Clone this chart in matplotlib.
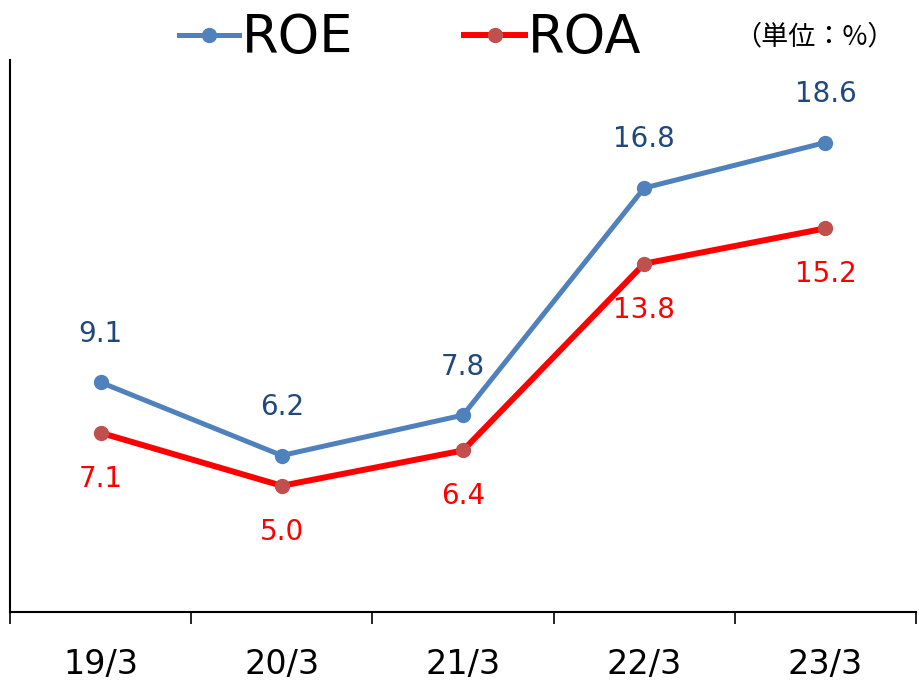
import numpy as np
import matplotlib
matplotlib.use("Agg")
import matplotlib.pyplot as plt

plt.rcParams['font.family'] = ['DejaVu Sans', 'Noto Sans CJK JP']

# data
periods = ["19/3", "20/3", "21/3", "22/3", "23/3"]
roe = [9.1, 6.2, 7.8, 16.8, 18.6]
roa = [7.1, 5.0, 6.4, 13.8, 15.2]

fig = plt.figure(figsize=(9.19, 6.81), dpi=100)
ax = fig.add_axes([10/919, 69/681, 906/919, 552/681])

x = np.arange(len(periods))
l1, = ax.plot(x, roe, color='#4F81BD', lw=3.6, marker='o', ms=10,
              mfc='#4F81BD', mec='#4F81BD', label='ROE', zorder=3)
l2, = ax.plot(x, roa, color='#FF0000', lw=4.3, marker='o', ms=10,
              mfc='#C0504D', mec='#C0504D', label='ROA', zorder=3)

# data labels
for xi, v in zip(x, roe):
    ax.annotate(f"{v:.1f}", (xi, v), xytext=(0, 35), textcoords='offset points',
                ha='center', va='center', fontsize=20, color='#1F497D')
for xi, v in zip(x, roa):
    ax.annotate(f"{v:.1f}", (xi, v), xytext=(0, -33), textcoords='offset points',
                ha='center', va='center', fontsize=20, color='#FF0000')

ax.set_xlim(-0.5, 4.5)
ax.set_ylim(0, 21.87)

for s in ['top', 'right']:
    ax.spines[s].set_visible(False)
for s in ['left', 'bottom']:
    ax.spines[s].set_linewidth(1.5)

ax.set_yticks([])
ax.set_xticks(x)
ax.set_xticklabels(periods, fontsize=24)
ax.set_xticks(np.arange(-0.5, 5, 1), minor=True)
ax.tick_params(axis='x', which='major', length=0, pad=26)
ax.tick_params(axis='x', which='minor', length=8.5, width=1.2, direction='out')

fig.legend(handles=[l1, l2], loc='center', bbox_to_anchor=(410/919, 1 - 38/681),
           ncol=2, frameon=False, fontsize=38, handlelength=1.15,
           handletextpad=0.05, columnspacing=2.1, borderpad=0, markerscale=1)

fig.text(814/919, 1 - 37/681, "（単位：%）", ha='center', va='center', fontsize=19.5,
         family=['Noto Sans CJK JP', 'DejaVu Sans'])

fig.savefig("out.png", dpi=100)
